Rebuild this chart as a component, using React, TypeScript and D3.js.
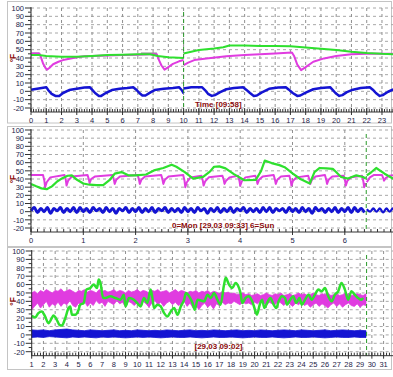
import React from "react";
import * as d3 from "d3";

type P = [number, number];

// ---------- Panel 1 : day view (hours) ----------
const p1Ticks = [0, 1, 2, 3, 4, 5, 6, 7, 8, 9, 10, 11, 12, 13, 14, 15, 16, 17, 18, 19, 20, 21, 22, 23];
const p1GreenA: P[] = [[0, 43.5], [0.5, 43.5], [1, 42.5], [2, 41.5], [3, 41.5], [4, 42.5], [5, 43.5], [6, 44], [7, 44.5], [7.8, 44.5], [8.3, 42.5], [9, 41], [10, 40]];
const p1GreenB: P[] = [[10, 45.5], [10.5, 47.5], [11, 49.5], [12, 51.5], [12.6, 53], [13, 55], [14, 55], [15, 54.5], [16, 54.5], [17, 54], [18, 52.5], [19, 51], [20, 49.5], [21, 47.5], [22, 46], [23, 45], [24, 44.5]];
const p1GrayA: P[] = [[0, 45.5], [0.55, 45.5]];
const p1GrayB: P[] = [[7.2, 45.5], [8.25, 45.5]];
const p1MagA: P[] = [[0, 45.5], [0.55, 45.5], [0.65, 41], [0.8, 33], [0.95, 28], [1.05, 26], [1.2, 28], [1.45, 32.5], [1.8, 35.5], [2.1, 37.5], [2.6, 39.5], [3, 41], [3.5, 42], [4, 42.5], [5, 43], [6, 43.5], [7, 44], [7.8, 44.5], [8.25, 44.5], [8.35, 39], [8.55, 31], [8.75, 26], [8.95, 28.5], [9.3, 33], [9.7, 36], [10, 37.5]];
const p1MagB: P[] = [[10, 31.5], [10.3, 34.5], [10.7, 37.5], [11.5, 39.5], [12.8, 42], [14, 43.5], [15, 44.5], [16, 45.5], [17.1, 46.5], [17.25, 42], [17.45, 32], [17.7, 25.5], [17.95, 28.5], [18.5, 35.5], [19.2, 39.5], [20, 42.5], [21, 44.5], [22, 45], [23, 45], [24, 45]];
const p1BlueA: P[] = [[0, 2], [0.5, 3.5], [1.0, 5], [1.15, 1], [1.35, -3], [1.6, -5.5], [1.85, -5.5], [2.1, -2], [2.5, 1.5], [3, 3], [3.5, 4.5], [3.85, 5], [4.0, 2], [4.2, -2], [4.45, -5.5], [4.6, -5.5], [4.9, -2], [5.3, 1.5], [5.8, 3], [6.3, 4], [6.7, 5], [6.9, 2], [7.1, -2], [7.3, -5], [7.5, -5], [7.8, -1.5], [8.1, 1.5], [8.7, 3], [9.3, 4], [9.7, 5], [9.9, 1], [10, -2.5]];
const p1BlueB: P[] = [[10, 3.5], [10.5, 5], [11.2, 5], [11.4, 1.5], [11.6, -3], [11.85, -5.5], [12.05, -4.5], [12.4, -1], [12.8, 2.5], [13.3, 4], [13.9, 5], [14.1, 2], [14.35, -2], [14.6, -5.5], [14.8, -5], [15.1, -1.5], [15.6, 3], [16.2, 4.5], [16.7, 5], [16.9, 2], [17.15, -2], [17.45, -5.5], [17.65, -5], [18, -1.5], [18.5, 2.5], [19, 4], [19.6, 5], [19.75, 2], [19.95, -2], [20.2, -5.5], [20.4, -4.5], [20.7, -1], [21.1, 2], [21.6, 4], [22.2, 5], [22.4, 2], [22.6, -2], [22.85, -5.5], [23.05, -4.5], [23.4, -0.5], [23.7, 2], [24, 3]];

// ---------- Panel 2 : week view (days) ----------
const p2Ticks = [0, 1, 2, 3, 4, 5, 6];
const p2MagA: P[] = [
  [0, 45], [0.23, 45], [0.255, 38], [0.27, 30], [0.3, 36], [0.37, 42],
  [0.64, 45], [0.665, 39], [0.68, 32], [0.71, 38], [0.78, 43],
  [1.08, 45], [1.105, 40], [1.12, 35], [1.15, 40], [1.22, 43],
  [1.56, 45], [1.585, 39], [1.6, 34], [1.63, 39], [1.7, 43],
  [2.04, 45], [2.065, 39], [2.08, 34], [2.11, 39], [2.18, 43],
  [2.49, 45], [2.515, 39], [2.53, 34], [2.56, 39], [2.63, 43],
  [2.91, 45], [2.935, 38], [2.95, 30], [2.98, 36], [3.05, 42],
  [3.26, 44], [3.285, 38], [3.3, 32], [3.33, 37], [3.4, 42],
  [3.66, 44], [3.685, 39], [3.7, 34], [3.73, 38], [3.8, 42],
  [3.96, 44], [3.985, 38], [4.0, 32], [4.03, 37], [4.1, 42],
  [4.29, 44], [4.315, 39], [4.33, 34], [4.36, 39], [4.43, 43],
  [4.64, 45], [4.665, 39], [4.68, 34], [4.71, 39], [4.78, 43],
  [4.94, 44], [4.965, 38], [4.98, 32], [5.01, 38], [5.08, 42],
  [5.3, 44], [5.325, 39], [5.34, 34], [5.37, 39], [5.44, 43],
  [5.62, 45], [5.645, 39], [5.66, 34], [5.69, 39], [5.76, 43],
  [5.98, 44], [6.005, 38], [6.02, 32], [6.05, 38], [6.12, 42],
  [6.33, 44], [6.355, 37], [6.37, 30], [6.4, 35],
];
const p2MagB: P[] = [[6.42, 36], [6.48, 42], [6.56, 45], [6.71, 45], [6.735, 41], [6.75, 38], [6.78, 41], [6.85, 44], [7.0, 45]];
const p2GreenA: P[] = [[0, 34], [0.1, 31], [0.2, 28.5], [0.3, 27.5], [0.4, 31], [0.5, 37], [0.6, 41], [0.7, 44], [0.78, 44.5], [0.88, 39], [1.0, 34.5], [1.12, 33], [1.25, 32.5], [1.38, 32.5], [1.5, 38.5], [1.6, 46.5], [1.73, 48.5], [1.86, 44.5], [2.0, 44.5], [2.2, 45.5], [2.35, 50.5], [2.53, 53.5], [2.69, 57.5], [2.78, 55], [2.94, 48.5], [3.1, 40.5], [3.29, 42.5], [3.42, 49], [3.5, 55], [3.6, 55.5], [3.72, 53], [3.88, 46], [4.08, 38.5], [4.3, 39], [4.4, 50], [4.47, 62.5], [4.6, 59.5], [4.75, 57], [4.85, 54.5], [5.0, 47], [5.15, 40], [5.33, 34.5], [5.42, 48.5], [5.52, 53.5], [5.65, 53], [5.77, 52.5], [5.93, 42.5], [6.06, 40.5], [6.22, 44.5], [6.35, 42.5], [6.4, 40.5]];
const p2GreenB: P[] = [[6.42, 44.5], [6.5, 48], [6.6, 53.5], [6.76, 46.5], [6.92, 40.5], [7.0, 40]];
// blue sampled every 1/16 day
const p2BlueStep = 1 / 16;
const p2BlueA = [1, 5, -1, 4, 0, 5, -2, 4, 1, 5, -1, 4, 0, 5, -1, 5, 0, 4, -1, 5, 1, 4, -1, 5, 0, 4, -2, 4, 1, 5, -1, 4, 0, 5, -1, 4, 0, 5, -1, 4, 1, 5, -1, 4, 0, 4, -1, 5, 0, 4, -1, 5, 1, 4, -2, 4, 0, 5, -1, 4, 0, 5, -1, 4, 1, 5, -1, 4, 0, 4, -1, 5, 0, 5, -1, 4, 1, 4, -1, 5, 0, 4, -1, 5, 0, 4, -2, 5, 1, 4, -1, 4, 0, 5, -1, 4, 0, 5, -1, 5, 0, 4, -1];
const p2BlueBStart = 6.42;
const p2BlueB = [3, 0, 4, 0, 4, -1, 4, 0, 4, 0];

// ---------- Panel 3 : month view (days of month) ----------
const p3Ticks = [1, 2, 3, 4, 5, 6, 7, 8, 9, 10, 11, 12, 13, 14, 15, 16, 17, 18, 19, 20, 21, 22, 23, 24, 25, 26, 27, 28, 29, 30, 31];
const p3MagStart = 1;
const p3MagStep = 0.25;
const p3MagUpper = [
  50, 52, 49, 53, 51, 54, 52, 50, 53, 52, 55, 51, 53, 54, 52, 50, 53,
  52, 54, 51, 53, 52, 50, 54, 52, 53, 51, 52, 54, 51, 53, 52, 50, 53, 51, 52,
  54, 51, 53, 52, 50, 53, 52, 54, 51, 52, 53, 50, 52, 54, 51, 53, 52, 50, 52,
  51, 53, 50, 52, 51, 53, 50, 52, 51, 49, 52, 50, 51, 49, 50, 48, 49, 50, 48,
  49, 47, 48, 49, 47, 48, 50, 48, 47, 49, 48, 50, 47, 48, 49, 47, 48, 50, 48,
  49, 47, 48, 50, 48, 47, 49, 48, 50, 47, 48, 49, 47, 48, 50, 48, 47, 48, 49, 48, 47, 49,
];
const p3MagLower = [
  30, 34, 38, 32, 36, 40, 33, 37, 35, 39, 34, 38, 36, 41, 35, 33, 38,
  36, 40, 34, 38, 35, 41, 37, 39, 34, 40, 38, 36, 41, 37, 39, 33, 40, 38, 35,
  39, 35, 40, 37, 33, 38, 41, 36, 39, 34, 38, 40, 36, 39, 35, 37, 40, 34, 38,
  32, 36, 30, 35, 38, 33, 36, 31, 37, 35, 39, 36, 38, 37, 40, 38, 36, 39, 37,
  38, 36, 39, 37, 40, 38, 35, 39, 37, 36, 40, 38, 35, 39, 37, 34, 38, 36, 39,
  35, 37, 33, 36, 38, 34, 37, 35, 32, 36, 38, 34, 37, 33, 36, 38, 35, 34, 37, 33, 36, 35,
];
const p3BlueStart = 1;
const p3BlueStep = 0.5;
const p3BlueUpper = [6, 5.5, 6, 5, 6, 6.5, 7, 6, 5.5, 5, 6, 5.5, 5, 5.5, 6, 5, 5.5, 5, 6, 5.5, 5, 5.5, 5, 6, 5.5, 5, 5.5, 6, 5, 5.5, 5, 6, 5.5, 5, 5.5, 6, 5, 5.5, 5, 6, 5.5, 5, 5.5, 6, 5.5, 5, 6, 5.5, 5, 5.5, 6, 5, 5.5, 6, 5.5, 5, 5.5, 5];
const p3BlueLower = [-3, -2.5, -3, -2, -2.5, -3, -3.5, -2.5, -3, -2.5, -3, -3.5, -2.5, -3, -2.5, -3, -3.5, -3, -2.5, -3, -2.5, -3, -3.5, -3, -2.5, -3, -3, -2.5, -3, -3.5, -3, -2.5, -3, -3, -2.5, -3, -3.5, -3, -2.5, -3, -3, -2.5, -3, -3.5, -3, -2.5, -3, -3, -2.5, -3, -3.5, -3, -2.5, -3, -3, -2.5, -3, -3];
const p3Green: P[] = [[1.0, 22.8], [1.29, 20.8], [1.57, 26], [1.86, 28], [2.14, 22], [2.43, 14], [2.71, 20], [2.86, 23.2], [3.14, 18], [3.37, 12], [3.57, 11.2], [3.86, 20], [4.14, 32], [4.29, 34], [4.43, 24], [4.71, 24], [5.0, 30], [5.14, 36], [5.43, 38], [5.66, 54], [6.0, 56], [6.29, 60], [6.57, 56], [6.71, 66], [6.86, 62], [7.09, 44], [7.29, 44], [7.71, 46], [8.14, 44], [8.57, 42], [8.86, 48], [9.0, 34], [9.29, 44], [9.71, 42], [10.0, 38], [10.29, 34], [10.57, 44], [10.86, 38], [11.14, 54], [11.29, 44], [11.43, 32], [11.71, 36], [12.0, 34], [12.29, 26], [12.57, 22], [12.86, 28], [13.14, 32], [13.43, 24], [13.71, 34], [14.0, 42], [14.14, 50], [14.43, 46], [14.71, 38], [14.9, 30], [15.14, 42], [15.7, 40], [15.99, 48], [16.27, 44], [16.55, 50], [16.83, 42], [17.1, 36], [17.4, 60], [17.54, 68], [17.82, 60], [18.1, 56], [18.38, 62], [18.67, 56], [18.8, 50], [18.95, 38], [19.23, 44], [19.5, 46], [19.8, 40], [20.08, 28], [20.2, 24], [20.44, 36], [20.64, 42], [20.84, 32], [21.06, 38], [21.35, 44], [21.63, 36], [21.85, 32], [22.05, 40], [22.33, 46], [22.6, 44], [22.76, 36], [23.04, 42], [23.3, 46], [23.55, 38], [23.83, 44], [24.03, 36], [24.3, 42], [24.6, 48], [24.87, 42], [25.15, 48], [25.44, 54], [25.72, 52], [26.0, 56], [26.28, 46], [26.57, 40], [26.85, 48], [27.13, 52], [27.41, 62], [27.7, 54], [27.98, 42], [28.26, 52], [28.54, 48], [28.82, 44], [29.1, 42], [29.25, 44]];

const yTicks = [-20, -10, 0, 10, 20, 30, 40, 50, 60, 70, 80, 90, 100];

const GREEN = "#2ee02e";
const MAG = "#e03ce0";
const BLUE = "#1414d2";
const GRAY = "#9a9a9a";
const LABEL = "#1c1c48";
const RED = "#8a0a0a";

type Line = { pts: P[]; color: string; w: number; smooth?: boolean };
type Band = { up: number[]; lo: number[]; t0: number; step: number; color: string };

type Cfg = {
  box: [number, number, number, number];
  xDomain: [number, number];
  xRange: [number, number];
  yRange: [number, number];
  ticks: number[];
  minorStep: number;
  marker: number;
  bands: Band[];
  lines: Line[];
  label: string;
  labelX: number;
  labelY: number;
};

function Panel({ c }: { c: Cfg }) {
  const x = d3.scaleLinear().domain(c.xDomain).range(c.xRange);
  const y = d3.scaleLinear().domain([-20, 100]).range(c.yRange);
  const axisY = y(-20) + 4;
  const x0 = c.xRange[0];
  const right = 393;
  const line = d3.line<P>().x((d) => x(d[0])).y((d) => y(d[1]));
  const smoothLine = d3.line<P>().x((d) => x(d[0])).y((d) => y(d[1])).curve(d3.curveMonotoneX);
  const minors = d3.range(c.xDomain[0], c.xDomain[1] + 1e-9, c.minorStep).filter((v) => x(v) <= right);
  const yMinors = d3.range(-20, 100.001, 5);
  return (
    <g>
      <rect x={c.box[0]} y={c.box[1]} width={c.box[2]} height={c.box[3]} fill="#fff" stroke="#c4c4c4" />
      {/* grid */}
      {yTicks.map((t) => (
        <line key={"h" + t} x1={x0} x2={right} y1={y(t)} y2={y(t)} stroke="#a8a8a8" strokeDasharray="3,3" />
      ))}
      {c.ticks.map((t) => (
        <line key={"v" + t} x1={x(t)} x2={x(t)} y1={y(100)} y2={y(-20)} stroke="#909090" strokeDasharray="3,3" />
      ))}
      {/* series */}
      {c.bands.map((b, i) => {
        const area = d3
          .area<number>()
          .x((_, j) => x(b.t0 + j * b.step))
          .y0((_, j) => y(b.lo[j]))
          .y1((d) => y(d));
        return <path key={"b" + i} d={area(b.up) || ""} fill={b.color} stroke={b.color} strokeWidth={0.8} />;
      })}
      {c.lines.map((l, i) => (
        <path key={"l" + i} d={(l.smooth ? smoothLine(l.pts) : line(l.pts)) || ""} fill="none" stroke={l.color} strokeWidth={l.w} strokeLinejoin="round" />
      ))}
      {/* marker */}
      <line x1={x(c.marker)} x2={x(c.marker)} y1={y(100) + 4} y2={axisY} stroke="#2a9a2a" strokeDasharray="4,3" />
      {/* y axis */}
      <line x1={x0} x2={x0} y1={y(100) - 1} y2={axisY} stroke="#333" />
      {yMinors.map((t) => (
        <line key={"ym" + t} x1={t % 10 === 0 ? x0 - 6 : x0 - 3} x2={x0} y1={y(t)} y2={y(t)} stroke="#333" />
      ))}
      {yTicks.map((t) => (
        <text key={"yl" + t} x={x0 - 7} y={y(t) + 2.8} textAnchor="end" fontSize={7.5} fill={LABEL} fontFamily="Arial, 'Liberation Sans', sans-serif">
          {t}
        </text>
      ))}
      <text transform={`translate(16,${y(40)}) rotate(-90)`} textAnchor="middle" fontSize={8.5} fontWeight="bold" fill={RED} fontFamily="Arial, 'Liberation Sans', sans-serif">
        °F
      </text>
      {/* x axis */}
      <line x1={x0} x2={right} y1={axisY} y2={axisY} stroke="#333" />
      {minors.map((t, i) => (
        <line key={"xm" + i} x1={x(t)} x2={x(t)} y1={axisY - 3} y2={axisY} stroke="#333" />
      ))}
      {c.ticks.map((t) => (
        <line key={"xt" + t} x1={x(t)} x2={x(t)} y1={axisY - 4} y2={axisY + 3} stroke="#333" />
      ))}
      {c.ticks.map((t) => (
        <text key={"xl" + t} x={x(t)} y={axisY + 11} textAnchor="middle" fontSize={7.5} fill={LABEL} fontFamily="Arial, 'Liberation Sans', sans-serif">
          {t}
        </text>
      ))}
      <text x={c.labelX} y={c.labelY} fontSize={8} fontWeight="bold" fill={RED} fontFamily="Arial, 'Liberation Sans', sans-serif">
        {c.label}
      </text>
    </g>
  );
}

const p2BlueAPts: P[] = p2BlueA.map((v, i) => [i * p2BlueStep, v]);
const p2BlueBPts: P[] = p2BlueB.map((v, i) => [p2BlueBStart + i * p2BlueStep, v]);

const panels: Cfg[] = [
  {
    box: [7.5, 1.5, 384, 121.5],
    xDomain: [0, 24],
    xRange: [31, 31 + 24 * 15.26],
    yRange: [108, 8],
    ticks: p1Ticks,
    minorStep: 1 / 6,
    marker: 10,
    bands: [],
    lines: [
      { pts: p1GrayA, color: GRAY, w: 2 },
      { pts: p1GrayB, color: GRAY, w: 2 },
      { pts: p1MagA, color: MAG, w: 2 },
      { pts: p1MagB, color: MAG, w: 2 },
      { pts: p1GreenA, color: GREEN, w: 2 },
      { pts: p1GreenB, color: GREEN, w: 2 },
      { pts: p1BlueA, color: BLUE, w: 2.5 },
      { pts: p1BlueB, color: BLUE, w: 2.5 },
    ],
    label: "Time [09:58]",
    labelX: 195,
    labelY: 106.5,
  },
  {
    box: [7.5, 126.5, 384, 120],
    xDomain: [0, 7],
    xRange: [31, 31 + 7 * 52.3],
    yRange: [228, 130],
    ticks: p2Ticks,
    minorStep: 1 / 8,
    marker: 6.41,
    bands: [],
    lines: [
      { pts: p2MagA, color: MAG, w: 2 },
      { pts: p2MagB, color: MAG, w: 2 },
      { pts: p2GreenA, color: GREEN, w: 2.2 },
      { pts: p2GreenB, color: GREEN, w: 2.2 },
      { pts: p2BlueAPts, color: BLUE, w: 3, smooth: true },
      { pts: p2BlueBPts, color: BLUE, w: 2.2, smooth: true },
    ],
    label: "0=Mon [29.03 09:33] 6=Sun",
    labelX: 172,
    labelY: 228,
  },
  {
    box: [7.5, 247.5, 384, 122],
    xDomain: [1, 31.5],
    xRange: [31.7, 31.7 + 30.5 * 11.73],
    yRange: [351.7, 251],
    ticks: p3Ticks,
    minorStep: 1 / 4,
    marker: 29.55,
    bands: [
      { up: p3MagUpper, lo: p3MagLower, t0: p3MagStart, step: p3MagStep, color: MAG },
      { up: p3BlueUpper, lo: p3BlueLower, t0: p3BlueStart, step: p3BlueStep, color: BLUE },
    ],
    lines: [{ pts: p3Green, color: GREEN, w: 2.5, smooth: true }],
    label: "[29.03 09:02]",
    labelX: 194.5,
    labelY: 349,
  },
];

export default function App() {
  return (
    <svg width={393} height={377} style={{ position: "absolute", left: 0, top: 0, background: "#fff" }}>
      <rect width={393} height={377} fill="#fff" />
      {panels.map((c, i) => (
        <Panel key={i} c={c} />
      ))}
    </svg>
  );
}
